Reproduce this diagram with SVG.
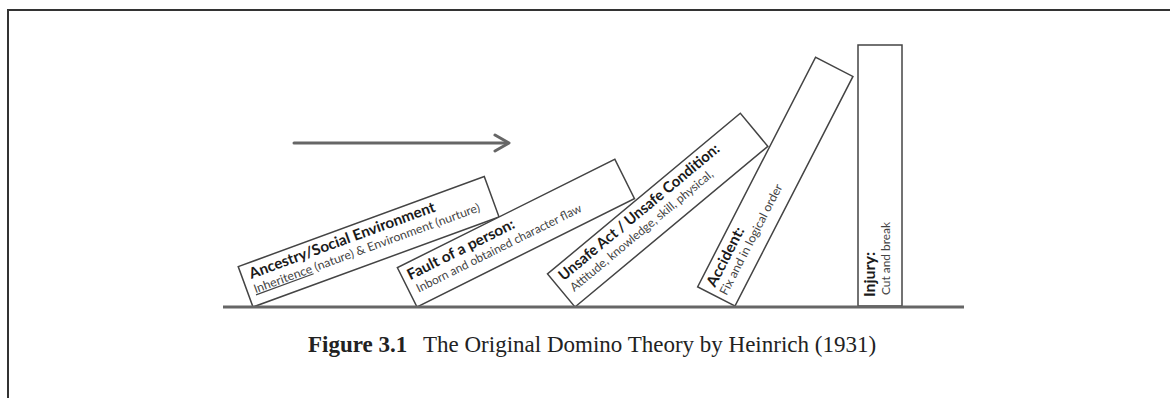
<svg xmlns="http://www.w3.org/2000/svg" width="1170" height="398" viewBox="0 0 1170 398">
<style>
.frame{fill:none;stroke:#333;stroke-width:2}
.dom{fill:#fff;stroke:#444;stroke-width:1.5}
.ground{stroke:#666;stroke-width:3;fill:none}
.arrow{stroke:#666;stroke-width:3;fill:none;stroke-linecap:round;stroke-linejoin:round}
.b{font-family:Lato,"Open Sans",sans-serif;font-weight:bold;font-size:15px;fill:#1a1a1a}
.r{font-family:Lato,"Open Sans",sans-serif;font-size:12px;fill:#444}
.capb{font-family:"Liberation Serif","Times New Roman",serif;font-weight:bold;font-size:23px;fill:#222}
.cap{font-family:"Liberation Serif","Times New Roman",serif;font-size:23px;fill:#222}
</style>
<rect width="1170" height="398" fill="#fff"/>
<path class="frame" d="M8,398 V10 H1170"/>

<g id="connectors">
<line class="arrow" x1="294" y1="143" x2="507" y2="143"/>
<polyline class="arrow" points="495,135 509,143 495,151"/>
</g>

<g id="d1" transform="translate(253,307) rotate(-20.1)">
<rect class="dom" x="0" y="-43" width="262" height="43"/>
<text class="b" x="8" y="-27" textLength="197" lengthAdjust="spacingAndGlyphs">Ancestry/Social Environment</text>
<text class="r" x="7" y="-12" textLength="240" lengthAdjust="spacingAndGlyphs"><tspan text-decoration="underline">Inheritence</tspan> (nature) &amp; Environment (nurture)</text>
</g>

<g id="d2" transform="translate(417,307) rotate(-26.5)">
<rect class="dom" x="0" y="-44" width="243" height="44"/>
<text class="b" x="6" y="-27" textLength="118" lengthAdjust="spacingAndGlyphs">Fault of a person:</text>
<text class="r" x="8" y="-12" textLength="183" lengthAdjust="spacingAndGlyphs">Inborn and obtained character flaw</text>
</g>

<g id="d3" transform="translate(575,307) rotate(-39.8)">
<rect class="dom" x="0" y="-43" width="251" height="43"/>
<text class="b" x="8" y="-27" textLength="204" lengthAdjust="spacingAndGlyphs">Unsafe Act / Unsafe Condition:</text>
<text class="r" x="9" y="-12" textLength="182" lengthAdjust="spacingAndGlyphs">Attitude, knowledge, skill, physical,</text>
</g>

<g id="d4" transform="translate(735,306) rotate(-62.8)">
<rect class="dom" x="0" y="-42" width="258" height="42"/>
<text class="b" x="7" y="-26" textLength="65" lengthAdjust="spacingAndGlyphs">Accident:</text>
<text class="r" x="5" y="-12" textLength="123" lengthAdjust="spacingAndGlyphs">Fix and in logical order</text>
</g>

<g id="d5" transform="translate(902,306) rotate(-90)">
<rect class="dom" x="0" y="-44" width="261" height="44"/>
<text class="b" x="9" y="-27" textLength="45" lengthAdjust="spacingAndGlyphs">Injury:</text>
<text class="r" x="11" y="-12" textLength="73" lengthAdjust="spacingAndGlyphs">Cut and break</text>
</g>

<line class="ground" x1="223" y1="307" x2="964" y2="307"/>

<text class="capb" x="308" y="352">Figure 3.1</text>
<text class="cap" x="423" y="352">The Original Domino Theory by Heinrich (1931)</text>
</svg>
